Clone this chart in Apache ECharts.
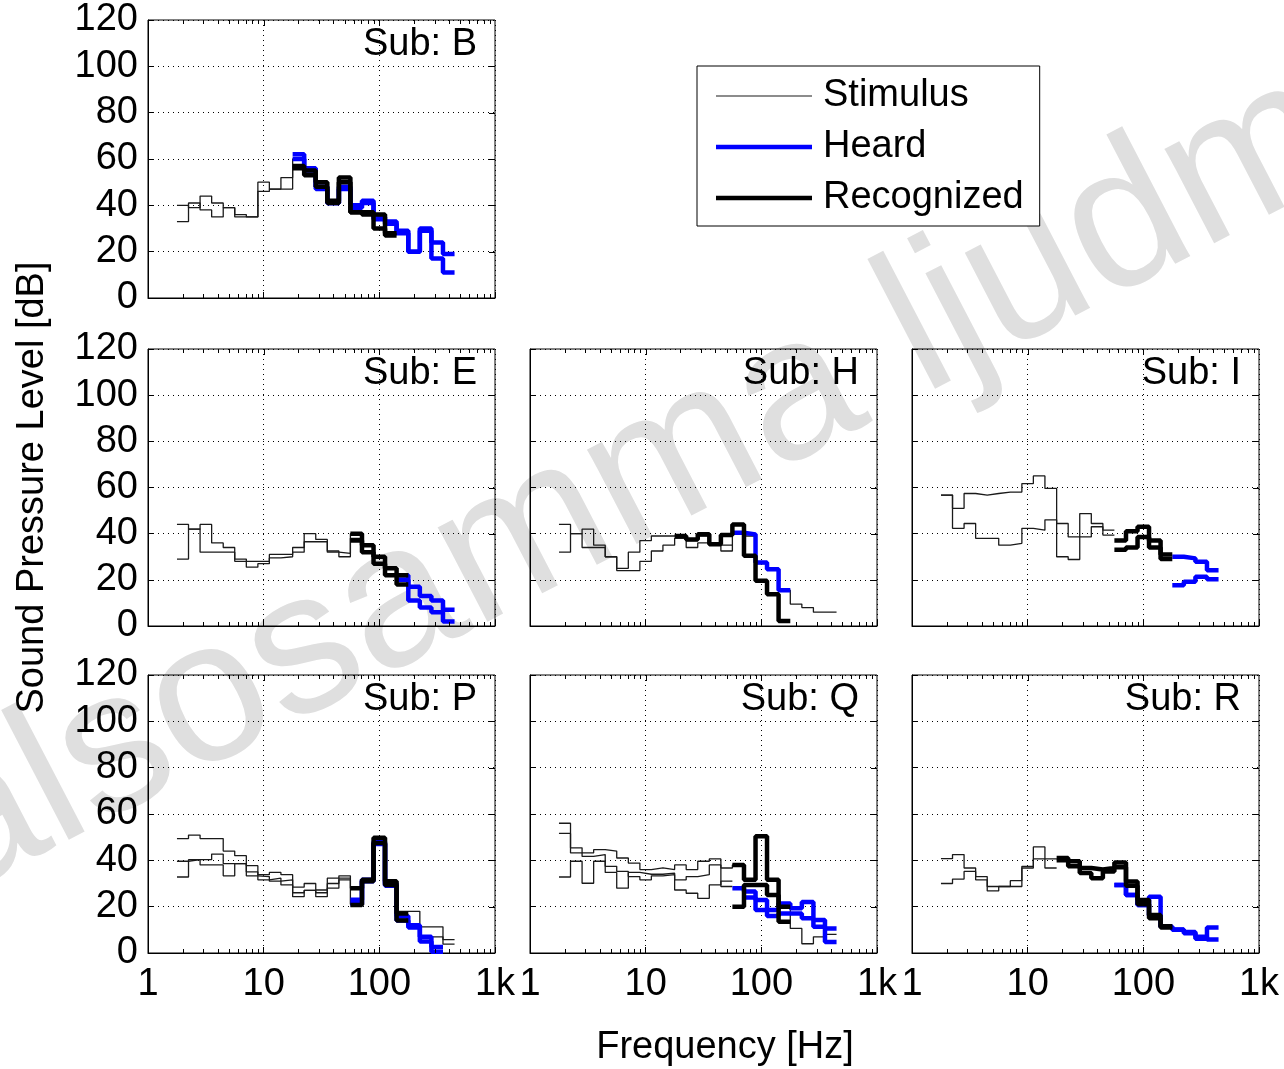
<!DOCTYPE html>
<html>
<head>
<meta charset="utf-8">
<script src="https://cdn.jsdelivr.net/npm/echarts@6/dist/echarts.min.js"></script>
<style>
html,body{margin:0;padding:0;background:#fff;}
#chart{width:1284px;height:1069px;}
</style>
</head>
<body>
<div id="chart"></div>
<script>
// third-octave band lower edges (Hz); the last entry closes the final band
const freqEdges = [1.78, 2.24, 2.82, 3.55, 4.47, 5.62, 7.08, 8.91, 11.2, 14.1, 17.8, 22.4, 28.2, 35.5, 44.7, 56.2, 70.8, 89.1, 112, 141, 178, 224, 282, 355, 447, 562];
const xTickLabels = {1: '1', 10: '10', 100: '100', 1000: '1k'};
const minorXTicks = [2,3,4,5,6,7,8,9,20,30,40,50,60,70,80,90,200,300,400,500,600,700,800,900];
const majorXTicks = [10, 100];
const yTicks = [20, 40, 60, 80, 100];
const legendNames = ['Stimulus', 'Heard', 'Recognized'];
const _ = null;

// Sub: B
const B_stim1 = [40, 39, 44, 41, 39, 36, 35, 50, 47, 52, 60];
const B_stim2 = [33, 41, 38, 35, 39, 35, 35, 46, 47, 47, 57];
const B_heard1 = [_,_,_,_,_,_,_,_,_,_, 62, 56, 48, 41, 48, 40, 42, 35, 33, 29, 20, 30, 24, 19];
const B_heard2 = [_,_,_,_,_,_,_,_,_,_, 60, 55, 47, 41, 47, 39, 41, 34, 32, 28, 20, 29, 17, 11];
const B_rec1 = [_,_,_,_,_,_,_,_,_,_, 57, 55, 50, 42, 52, 37, 37, 36, 28];
const B_rec2 = [_,_,_,_,_,_,_,_,_,_, 56, 53, 48, 41, 50, 37, 36, 30, 27];
// Sub: E
const E_stim1 = [44, 42, 44, 36, 34, 29, 28, 28, 31, 31, 34, 40, 37.5, 32, 31.5, 40];
const E_stim2 = [29, 42, 32, 32, 32, 28, 25.5, 27, 29.5, 30, 32, 36.5, 36.5, 32.5, 30, 38];
const E_heard1 = [_,_,_,_,_,_,_,_,_,_,_,_,_,_,_,_,_,_,_, 22, 17, 13, 11, 7];
const E_heard2 = [_,_,_,_,_,_,_,_,_,_,_,_,_,_,_,_,_,_,_, 20, 11, 8, 6, 2];
const E_rec1 = [_,_,_,_,_,_,_,_,_,_,_,_,_,_,_, 40, 35, 30, 25, 22];
const E_rec2 = [_,_,_,_,_,_,_,_,_,_,_,_,_,_,_, 37, 32, 27, 22, 18];
// Sub: H
const H_stim1 = [44, 40, 42, 35, 30, 25, 32, 37, 39, 39, 39, 37, 39, 35, 35];
const H_stim2 = [32, 40, 34, 34, 30, 24, 24, 28, 32.5, 35, 38, 34, 36, 35, 32.5, 40, 39, 27, 25, 15.5, 9.5, 8, 6, 6];
const H_heard1 = [_,_,_,_,_,_,_,_,_,_,_,_,_,_,_, 40.4, 39.7, 27.5, 24.6, 15.5];
const H_rec1 = [_,_,_,_,_,_,_,_,_,_, 39, 37.5, 39.7, 35.4, 39.4, 44, 30.4, 19.6, 13.8, 2.2];
// Sub: I
const I_stim1 = [56.7, 51, 57.4, 56.7, 57.4, 58, 58, 61.7, 65, 59.6, 30, 28.8, 48.7, 44.4, 41.5];
const I_stim2 = [56.7, 42.3, 44.4, 38, 38, 35, 35.8, 42.3, 41.5, 46, 44.4, 38.6, 38.6, 43, 39.4];
const I_heard1 = [_,_,_,_,_,_,_,_,_,_,_,_,_,_,_,_,_,_,_,_, 30, 29.3, 27.8, 24.2];
const I_heard2 = [_,_,_,_,_,_,_,_,_,_,_,_,_,_,_,_,_,_,_,_, 17.7, 19.2, 21.3, 20.2];
const I_rec1 = [_,_,_,_,_,_,_,_,_,_,_,_,_,_,_, 37, 41, 43, 37, 31];
const I_rec2 = [_,_,_,_,_,_,_,_,_,_,_,_,_,_,_, 33, 34, 38.6, 34, 29];
// Sub: P
const P_stim1 = [49.4, 50.9, 49.4, 49.4, 44, 42, 37.7, 33.8, 34.8, 33.8, 28.4, 30, 27.2, 32.3, 33.3, 28, 31, 48, 31, 18, 18, 11.3, 11.3, 5.8];
const P_stim2 = [39.6, 40.3, 40.3, 42.7, 38.6, 38.6, 35, 31.6, 32.3, 29.4, 24.3, 27, 24.3, 28, 31.6, 21, 31, 47, 29, 16, 11, 7, 7, 3.8];
const P_stim3 = [32.8, 40.3, 38, 38, 33.3, 38.6, 33.3, 33, 31, 31.6, 26, 27, 26, 30, 32.3];
const P_heard1 = [_,_,_,_,_,_,_,_,_,_,_,_,_,_,_, 23, 31.6, 48, 30, 16, 12, 7, 2.6];
const P_heard2 = [_,_,_,_,_,_,_,_,_,_,_,_,_,_,_, 21, 31, 47, 29, 14, 11, 5, 0.5];
const P_rec1 = [_,_,_,_,_,_,_,_,_,_,_,_,_,_,_, 28, 31, 49.7, 31, 17];
const P_rec2 = [_,_,_,_,_,_,_,_,_,_,_,_,_,_,_, 20.7, 31.6, 47.5, 29.4, 14];
// Sub: Q
const Q_stim1 = [56, 45.4, 43.2, 44.6, 44, 41, 38.8, 36, 36.7, 36, 38, 36, 39.6, 40.6, 36.7, 38, 31, 50, 31, 20, 10.6, 4, 7, 8];
const Q_stim2 = [51.6, 43.2, 41.7, 42.5, 37.4, 35.2, 33, 31.6, 33.3, 33.8, 31.6, 33, 33.8, 38, 28.7];
const Q_stim3 = [32.8, 39.6, 30.1, 39.6, 34.8, 28, 34.8, 34, 34, 34.5, 27.2, 25.8, 23.6, 29.4, 31];
const Q_heard1 = [_,_,_,_,_,_,_,_,_,_,_,_,_,_,_, 28, 26.5, 22.9, 18.6, 21.4, 19.3, 22, 14.2, 10.6];
const Q_heard2 = [_,_,_,_,_,_,_,_,_,_,_,_,_,_,_,_, 24, 18.6, 16, 17, 17.1, 15, 11.3, 4.8];
const Q_rec1 = [_,_,_,_,_,_,_,_,_,_,_,_,_,_,_, 38, 31.6, 50.4, 31.6, 20];
const Q_rec2 = [_,_,_,_,_,_,_,_,_,_,_,_,_,_,_, 20, 29.4, 29.4, 25, 13.5];
// Sub: R
const R_stim1 = [40.7, 42.5, 36.7, 33, 28.7, 28.7, 31.2, 37.4, 45.8, 36.7];
const R_stim2 = [30, 31.9, 35.2, 31.6, 26.8, 28.7, 28.7, 36.7, 40.6, 40.6];
const R_heard1 = [_,_,_,_,_,_,_,_,_,_,_,_,_,_,_, 29.4, 25, 20.7, 24.3, 11.3, 10.1, 9.1, 6.2, 11];
const R_heard2 = [_,_,_,_,_,_,_,_,_,_,_,_,_,_,_, 29.4, 25, 20.7, 16, 11.3, 10, 8.5, 7, 5.8];
const R_rec1 = [_,_,_,_,_,_,_,_,_,_, 41, 39.6, 36.7, 36, 36.7, 39.1, 30.9, 22.9, 16.4, 11.6];
const R_rec2 = [_,_,_,_,_,_,_,_,_,_, 40, 37.4, 34.5, 32.3, 35.2, 37, 29, 21, 15, 11];

const FONT = '"Liberation Sans", Arial, Helvetica, sans-serif';
const FS = 38;
const STIM_C = '#1a1a1a', HEARD_C = '#0000ff', REC_C = '#000000';
const THICK = 4.5;

const panels = [
  {title: 'Sub: B', box: [148, 20, 347, 278], stim: [B_stim1, B_stim2], heard: [B_heard1, B_heard2], rec: [B_rec1, B_rec2], yLab: true, xLab: false},
  {title: 'Sub: E', box: [148, 349, 347, 277], stim: [E_stim1, E_stim2], heard: [E_heard1, E_heard2], rec: [E_rec1, E_rec2], yLab: true, xLab: false, yName: true},
  {title: 'Sub: H', box: [530, 349, 347, 277], stim: [H_stim1, H_stim2], heard: [H_heard1], rec: [H_rec1], yLab: false, xLab: false},
  {title: 'Sub: I', box: [912, 349, 347, 277], stim: [I_stim1, I_stim2], heard: [I_heard1, I_heard2], rec: [I_rec1, I_rec2], yLab: false, xLab: false},
  {title: 'Sub: P', box: [148, 675, 347, 278], stim: [P_stim1, P_stim2, P_stim3], heard: [P_heard1, P_heard2], rec: [P_rec1, P_rec2], yLab: true, xLab: true},
  {title: 'Sub: Q', box: [530, 675, 347, 278], stim: [Q_stim1, Q_stim2, Q_stim3], heard: [Q_heard1, Q_heard2], rec: [Q_rec1, Q_rec2], yLab: false, xLab: true},
  {title: 'Sub: R', box: [912, 675, 347, 278], stim: [R_stim1, R_stim2], heard: [R_heard1, R_heard2], rec: [R_rec1, R_rec2], yLab: false, xLab: true}
];

function stepData(levels) {
  const out = [];
  let last = -1;
  levels.forEach((v, i) => {
    if (v !== null && v !== undefined) { out.push([freqEdges[i], v]); last = i; }
  });
  if (last >= 0) out.push([freqEdges[last + 1], levels[last]]);
  return out;
}

const tickData = [];
minorXTicks.forEach(f => tickData.push([f, 1, 0]));
majorXTicks.forEach(f => tickData.push([f, 1, 1]));
yTicks.forEach(v => tickData.push([1, v, 2]));

const grids = [], xAxes = [], yAxes = [], series = [], graphics = [];

graphics.push({
  type: 'text', x: -22, y: 938, rotation: 0.48, z: -100, silent: true,
  style: {text: 'alsosamma ljudmi', font: '202px ' + FONT, fill: '#dfdfdf', textAlign: 'left', textVerticalAlign: 'bottom'}
});

panels.forEach((p, i) => {
  const [l, t, w, h] = p.box;
  grids.push({left: l, top: t, width: w, height: h, show: true, borderColor: '#000', borderWidth: 1, backgroundColor: 'transparent', containLabel: false});
  xAxes.push({
    type: 'log', logBase: 10, min: 1, max: 1000, gridIndex: i,
    axisLine: {show: true, lineStyle: {color: '#000', width: 1}},
    axisTick: {show: true, inside: true, length: 6, lineStyle: {color: '#000'}},
    axisLabel: {show: p.xLab, margin: 13, fontSize: FS, fontFamily: FONT, color: '#000',
      showMinLabel: true, showMaxLabel: true, formatter: v => xTickLabels[Math.round(v)] || ''},
    splitLine: {show: true, lineStyle: {color: '#000', width: 1, type: [1, 4]}}
  });
  yAxes.push({
    type: 'value', min: 0, max: 120, interval: 20, gridIndex: i,
    axisLine: {show: true, lineStyle: {color: '#000', width: 1}},
    axisTick: {show: true, inside: true, length: 6, lineStyle: {color: '#000'}},
    axisLabel: {show: p.yLab, margin: 10, fontSize: FS, fontFamily: FONT, color: '#000'},
    splitLine: {show: true, lineStyle: {color: '#000', width: 1, type: [1, 4]}},
    name: p.yName ? 'Sound Pressure Level [dB]' : '',
    nameLocation: 'middle', nameGap: 96,
    nameTextStyle: {fontSize: FS, fontFamily: FONT, color: '#000'}
  });
  p.stim.forEach(arr => series.push({
    name: legendNames[0], type: 'line', xAxisIndex: i, yAxisIndex: i, step: 'end', symbol: 'none',
    data: stepData(arr), z: 3, animation: false, color: STIM_C,
    lineStyle: {color: STIM_C, width: 1.3}, itemStyle: {color: STIM_C}
  }));
  p.heard.forEach(arr => series.push({
    name: legendNames[1], type: 'line', xAxisIndex: i, yAxisIndex: i, step: 'end', symbol: 'none',
    data: stepData(arr), z: 4, animation: false, color: HEARD_C,
    lineStyle: {color: HEARD_C, width: THICK}, itemStyle: {color: HEARD_C}
  }));
  p.rec.forEach(arr => series.push({
    name: legendNames[2], type: 'line', xAxisIndex: i, yAxisIndex: i, step: 'end', symbol: 'none',
    data: stepData(arr), z: 5, animation: false, color: REC_C,
    lineStyle: {color: REC_C, width: THICK}, itemStyle: {color: REC_C}
  }));
  series.push({
    type: 'custom', xAxisIndex: i, yAxisIndex: i, data: tickData, silent: true, animation: false, z: 6,
    encode: {x: 0, y: 1}, clip: false,
    renderItem: (params, api) => {
      const cs = params.coordSys;
      const kind = api.value(2);
      const st = {stroke: '#000', lineWidth: 1};
      if (kind === 2) {
        const y = Math.round(api.coord([1, api.value(1)])[1]) + 0.5;
        const xr = cs.x + cs.width;
        return {type: 'line', shape: {x1: xr, y1: y, x2: xr - 6, y2: y}, style: st};
      }
      const x = Math.round(api.coord([api.value(0), 1])[0]) + 0.5;
      const len = kind === 1 ? 6 : 4;
      const children = [{type: 'line', shape: {x1: x, y1: cs.y, x2: x, y2: cs.y + len}, style: st}];
      if (kind === 0) children.push({type: 'line', shape: {x1: x, y1: cs.y + cs.height, x2: x, y2: cs.y + cs.height - len}, style: st});
      return {type: 'group', children: children};
    }
  });
  graphics.push({
    type: 'text', x: l + w - 18, y: t + 25, z: 50, silent: true,
    style: {text: p.title, font: FS + 'px ' + FONT, fill: '#000', textAlign: 'right', textVerticalAlign: 'middle'}
  });
});

graphics.push({
  type: 'text', x: 725, y: 1048, z: 50, silent: true,
  style: {text: 'Frequency [Hz]', font: FS + 'px ' + FONT, fill: '#000', textAlign: 'center', textVerticalAlign: 'middle'}
});

// legend icons: 96x40 boxes with a centred stripe (thin for Stimulus, thick for Heard/Recognized)
const thinIcon = 'path://M0,0 M96,40 M0,19.4 L96,19.4 L96,20.6 L0,20.6 Z';
const thickIcon = 'path://M0,0 M96,40 M0,17.7 L96,17.7 L96,22.3 L0,22.3 Z';

const chart = echarts.init(document.getElementById('chart'), null, {renderer: 'canvas'});
chart.setOption({
  backgroundColor: '#fff',
  animation: false,
  grid: grids,
  xAxis: xAxes,
  yAxis: yAxes,
  series: series,
  graphic: graphics,
  legend: {
    data: [
      {name: legendNames[0], icon: thinIcon, itemStyle: {color: STIM_C, borderWidth: 0}},
      {name: legendNames[1], icon: thickIcon, itemStyle: {color: HEARD_C, borderWidth: 0}},
      {name: legendNames[2], icon: thickIcon, itemStyle: {color: REC_C, borderWidth: 0}}
    ],
    orient: 'vertical', left: 697, top: 66,
    backgroundColor: '#fff', borderColor: '#000', borderWidth: 1,
    padding: [10, 16, 8, 19], itemWidth: 96, itemHeight: 40, itemGap: 11,
    selectedMode: false,
    textStyle: {fontSize: FS, fontFamily: FONT, color: '#000', padding: [0, 0, 0, 6], lineHeight: 40}
  }
});
</script>
</body>
</html>
